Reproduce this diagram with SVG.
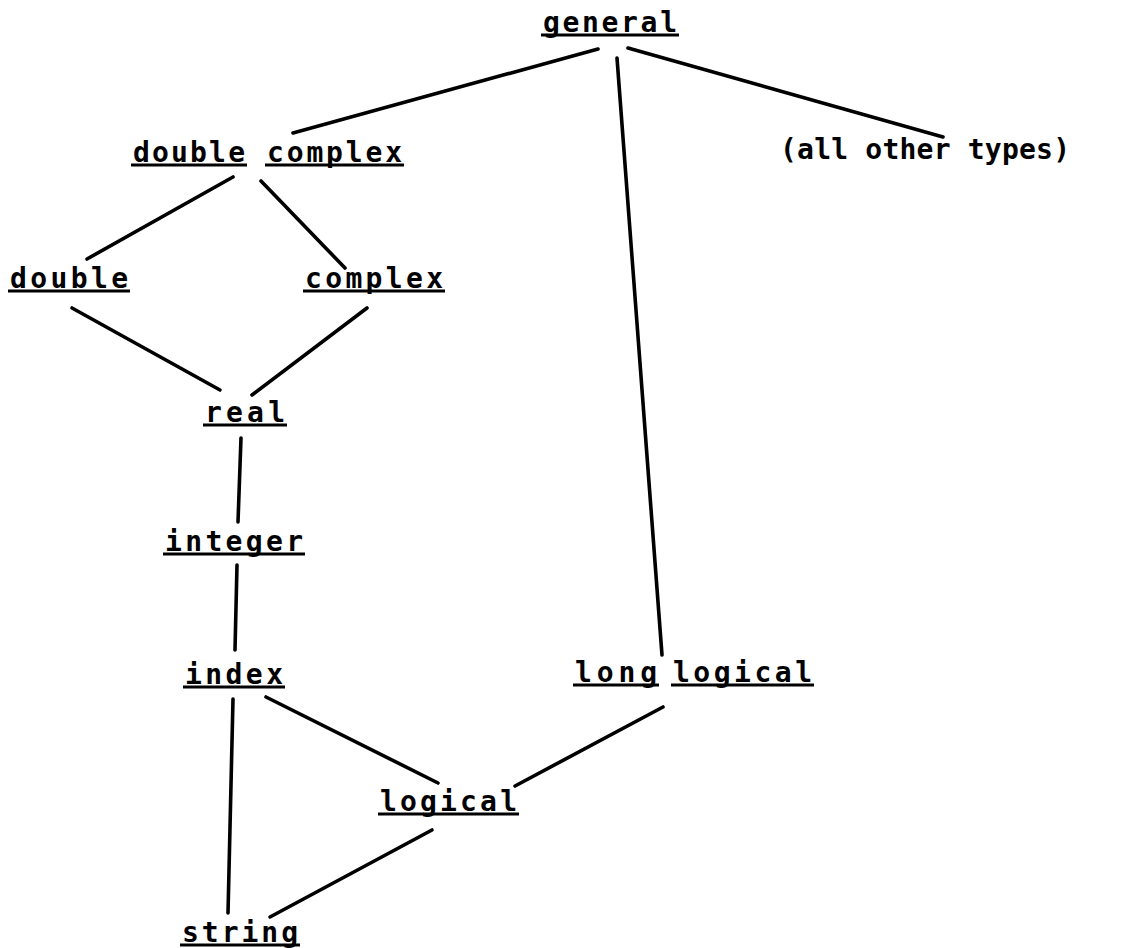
<svg xmlns="http://www.w3.org/2000/svg" width="1128" height="948" viewBox="0 0 1128 948">
<style>
.t{font-family:"DejaVu Sans Mono","Liberation Mono",monospace;font-size:28px;font-weight:bold;fill:#000;}
.u{stroke:#000;stroke-width:3;}
.c{stroke:#000;stroke-width:3.6;stroke-linecap:round;fill:none;}
</style>
<rect width="1128" height="948" fill="#fff"/>
<g id="connectors">
<line class="c" x1="598" y1="49" x2="293" y2="133"/>
<line class="c" x1="628" y1="48" x2="943" y2="137"/>
<line class="c" x1="617" y1="58" x2="662" y2="655"/>
<line class="c" x1="233" y1="177" x2="87" y2="259"/>
<line class="c" x1="261" y1="181" x2="345" y2="268"/>
<line class="c" x1="72" y1="308" x2="220" y2="390"/>
<line class="c" x1="367" y1="308" x2="252" y2="395"/>
<line class="c" x1="241" y1="438" x2="238" y2="522"/>
<line class="c" x1="237" y1="565" x2="235" y2="650"/>
<line class="c" x1="233" y1="699" x2="228" y2="913"/>
<line class="c" x1="266" y1="697" x2="438" y2="783"/>
<line class="c" x1="663" y1="707" x2="515" y2="786"/>
<line class="c" x1="432" y1="830" x2="270" y2="917"/>
</g>
<g id="general">
<text class="t" x="543" y="32" textLength="134" lengthAdjust="spacing">general</text>
<line class="u" x1="541" y1="35" x2="679" y2="35"/>
</g>
<g id="double_complex">
<text class="t" x="133" y="162" textLength="112" lengthAdjust="spacing">double</text>
<line class="u" x1="131" y1="165" x2="247" y2="165"/>
<text class="t" x="267" y="162" textLength="135" lengthAdjust="spacing">complex</text>
<line class="u" x1="265" y1="165" x2="404" y2="165"/>
</g>
<g id="all_other_types">
<text class="t" x="780" y="159" textLength="290" lengthAdjust="spacing">(all other types)</text>
</g>
<g id="double">
<text class="t" x="10" y="288" textLength="118" lengthAdjust="spacing">double</text>
<line class="u" x1="8" y1="291" x2="130" y2="291"/>
</g>
<g id="complex">
<text class="t" x="305" y="288" textLength="138" lengthAdjust="spacing">complex</text>
<line class="u" x1="303" y1="291" x2="445" y2="291"/>
</g>
<g id="real">
<text class="t" x="205" y="422" textLength="80" lengthAdjust="spacing">real</text>
<line class="u" x1="203" y1="425" x2="287" y2="425"/>
</g>
<g id="integer">
<text class="t" x="165" y="551" textLength="138" lengthAdjust="spacing">integer</text>
<line class="u" x1="163" y1="554" x2="305" y2="554"/>
</g>
<g id="index">
<text class="t" x="185" y="684" textLength="98" lengthAdjust="spacing">index</text>
<line class="u" x1="183" y1="687" x2="285" y2="687"/>
</g>
<g id="long_logical">
<text class="t" x="575" y="682" textLength="82" lengthAdjust="spacing">long</text>
<line class="u" x1="573" y1="685" x2="659" y2="685"/>
<text class="t" x="673" y="682" textLength="139" lengthAdjust="spacing">logical</text>
<line class="u" x1="671" y1="685" x2="814" y2="685"/>
</g>
<g id="logical">
<text class="t" x="380" y="811" textLength="137" lengthAdjust="spacing">logical</text>
<line class="u" x1="378" y1="814" x2="519" y2="814"/>
</g>
<g id="string">
<text class="t" x="182" y="942" textLength="116" lengthAdjust="spacing">string</text>
<line class="u" x1="180" y1="945" x2="300" y2="945"/>
</g>
</svg>
